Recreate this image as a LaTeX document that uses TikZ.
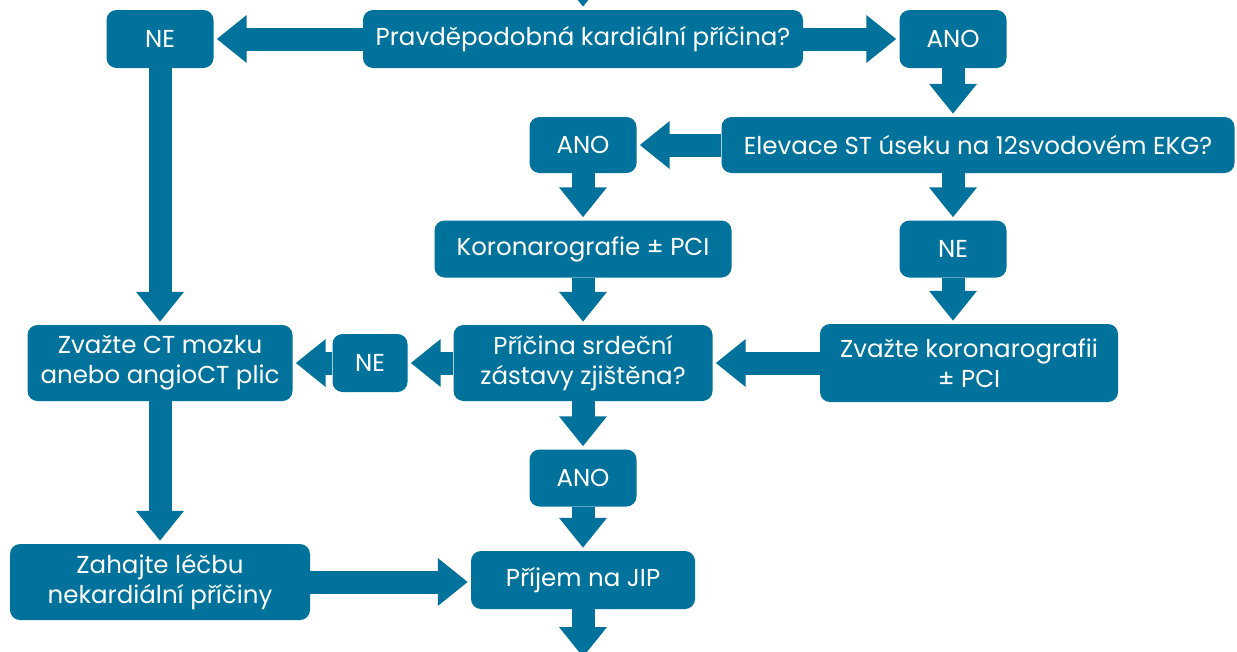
\documentclass[tikz,border=0pt]{standalone}
\usepackage{fontspec}
\setmainfont{Poppins}
\usetikzlibrary{arrows.meta}
\definecolor{flowblue}{RGB}{0,114,155}
\tikzset{
  box/.style={fill=flowblue,text=white,rounded corners=10pt,align=center,inner sep=0pt},
  arr/.style={flowblue,line width=23pt,-{Triangle[length=30pt,width=46pt]},shorten >=3pt},
}
\begin{document}
\begin{tikzpicture}[x=1pt,y=-1pt,font=\fontsize{24.5}{30}\selectfont]
	\useasboundingbox (0,0) rectangle (1237,651);
	% boxes
	\node[box,minimum width=440pt,minimum height=58pt] (q1) at (583,39) {Pravděpodobná kardiální příčina?};
	\node[box,minimum width=107pt,minimum height=58pt] (ne1) at (160,39) {NE};
	\node[box,minimum width=107pt,minimum height=58pt] (ano1) at (953,39) {ANO};
	\node[box,minimum width=513pt,minimum height=56pt] (q2) at (978,145) {Elevace ST úseku na 12svodovém EKG?};
	\node[box,minimum width=107pt,minimum height=56pt] (ano2) at (583,145) {ANO};
	\node[box,minimum width=297pt,minimum height=57pt] (kor) at (583,249) {Koronarografie ± PCI};
	\node[box,minimum width=107pt,minimum height=57pt] (ne2) at (953,249) {NE};
	\node[box,minimum width=259pt,minimum height=76pt] (q3) at (583,363) {Příčina srdeční\\zástavy zjištěna?};
	\node[box,minimum width=298pt,minimum height=78pt] (zvk) at (969,363) {Zvažte koronarografii\\± PCI};
	\node[box,minimum width=75pt,minimum height=58pt] (ne3) at (370,363) {NE};
	\node[box,minimum width=265pt,minimum height=76pt] (ct) at (160,363) {Zvažte CT mozku\\anebo angioCT plic};
	\node[box,minimum width=107pt,minimum height=57pt] (ano3) at (583,478) {ANO};
	\node[box,minimum width=300pt,minimum height=76pt] (zah) at (160,582) {Zahajte léčbu\\nekardiální příčiny};
	\node[box,minimum width=224pt,minimum height=58pt] (jip) at (583,580) {Příjem na JIP};
	\coordinate (in) at (583,-24);
	\coordinate (out) at (583,660);
	% arrows
	\draw[arr] (in) -- (q1);
	\draw[arr] (q1) -- (ne1);
	\draw[arr] (q1) -- (ano1);
	\draw[arr] (ne1) -- (ct);
	\draw[arr] (ano1.south) -- (ano1.south |- q2.north);
	\draw[arr] (q2) -- (ano2);
	\draw[arr] (ne2.north |- q2.south) -- (ne2.north);
	\draw[arr] (ano2) -- (kor);
	\draw[arr] (kor) -- (q3);
	\draw[arr] (ne2.south) -- (ne2.south |- zvk.north);
	\draw[arr] (zvk) -- (q3);
	\draw[arr] (q3) -- (ne3);
	\draw[arr] (ne3) -- (ct);
	\draw[arr] (q3) -- (ano3);
	\draw[arr] (ct) -- (zah);
	\draw[arr] (ano3) -- (jip);
	\draw[arr] (zah.east) -- (jip.west |- zah.east);
	\draw[arr] (jip) -- (out);
\end{tikzpicture}
\end{document}
